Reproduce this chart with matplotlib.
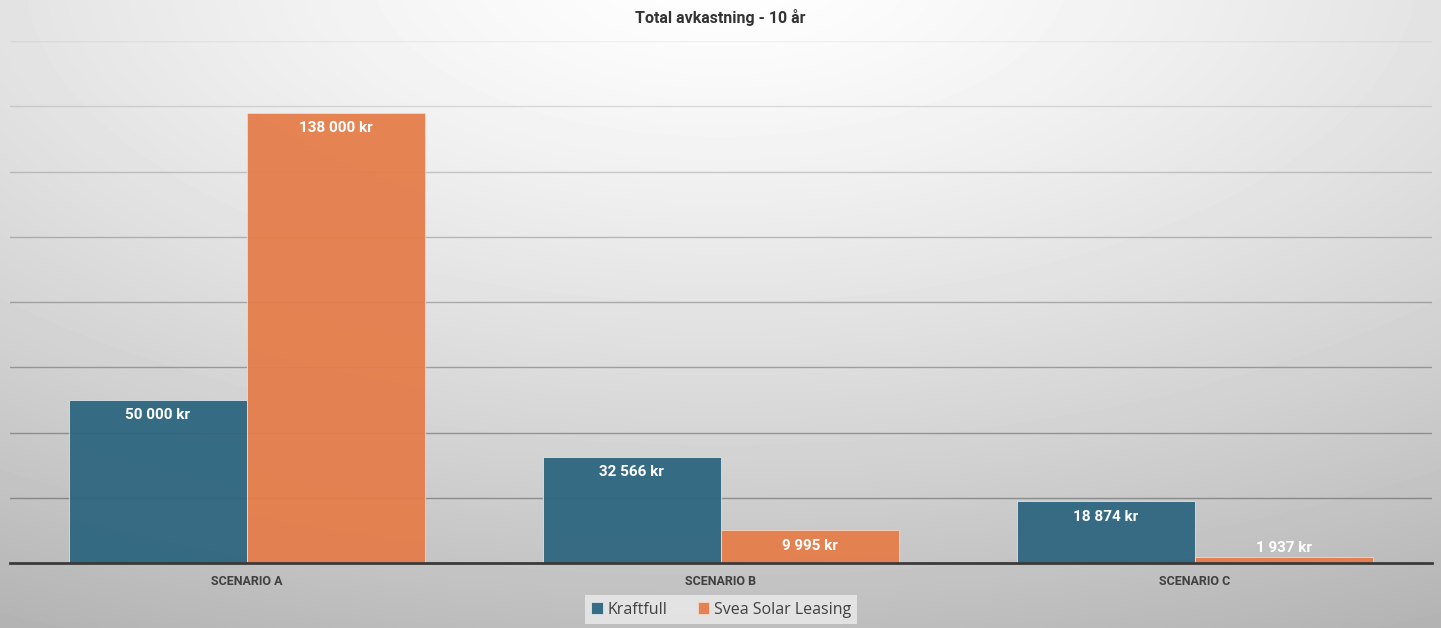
import numpy as np
import matplotlib
matplotlib.use("Agg")
import matplotlib.pyplot as plt
from matplotlib import font_manager as fm

categories = ["SCENARIO A", "SCENARIO B", "SCENARIO C"]
series_names = ["Kraftfull", "Svea Solar Leasing"]
kraftfull = [50000, 32566, 18874]
svea = [138000, 9995, 1937]
title = "Total avkastning - 10 år"
y_ticks = [0, 20000, 40000, 60000, 80000, 100000, 120000, 140000, 160000]

names = {f.name for f in fm.fontManager.ttflist}
lab_font = "Liberation Sans Narrow" if "Liberation Sans Narrow" in names else "Roboto"
txt_font = "Open Sans" if "Open Sans" in names else "DejaVu Sans"

W, H = 1441, 628
fig = plt.figure(figsize=(W / 100, H / 100), dpi=100)

# radial gradient background
bg = fig.add_axes([0, 0, 1, 1])
yy, xx = np.mgrid[0:H, 0:W]
r = np.sqrt(((xx - 720) / 1.0) ** 2 + ((yy + 30) * 2.1) ** 2)
r = r / r.max()
val = 1.0 - 0.30 * np.clip(r, 0, 1) ** 1.3
bg.imshow(val, cmap="gray", vmin=0, vmax=1, aspect="auto", extent=[0, W, H, 0])
bg.axis("off")

ax = fig.add_axes([10 / W, 1 - 563 / H, 1422 / W, (563 - 41) / H])
ax.patch.set_alpha(0)
x = np.arange(len(categories))
bw = 0.376
c_blue = "#2E6680"
c_orange = "#E57D4B"
ymax = y_ticks[-1]
ax.set_ylim(0, ymax)
ax.set_xlim(-0.5, 2.5)
ax.set_yticks(y_ticks)
for v in y_ticks[1:]:
    frac = v / ymax
    a = 0.42 - 0.36 * frac ** 2
    ax.axhline(v, color="#333333", alpha=a, linewidth=1, zorder=1)

b1 = ax.bar(x - bw / 2, kraftfull, bw, color=c_blue, alpha=0.95, edgecolor="#dfe9ee", linewidth=0.6, zorder=2)
b2 = ax.bar(x + bw / 2, svea, bw, color=c_orange, alpha=0.95, edgecolor="#f6d9c9", linewidth=0.6, zorder=2)

def fmt(v):
    return f"{v:,}".replace(",", " ") + " kr"

for bars, vals in ((b1, kraftfull), (b2, svea)):
    for rect, v in zip(bars, vals):
        cx = rect.get_x() + rect.get_width() / 2
        off = -11 if v > 5000 else 6
        ax.annotate(fmt(v), (cx, v), xytext=(0, off), textcoords="offset points",
                    ha="center", va="center", color="white", fontsize=11,
                    fontweight="bold", family=lab_font, zorder=5)

for s in ["top", "right", "left"]:
    ax.spines[s].set_visible(False)
ax.spines["bottom"].set_color("#3a3a3a")
ax.spines["bottom"].set_linewidth(2)
ax.spines["bottom"].set_zorder(3)
ax.tick_params(left=False, labelleft=False, bottom=False)
ax.set_xticks(x)
ax.set_xticklabels(categories, fontsize=9, fontweight="bold", color="#404040", family=lab_font)
ax.tick_params(axis="x", pad=5)

fig.text(720 / W, 1 - 18 / H, title, ha="center", va="center", fontsize=11.5,
         fontweight="bold", color="#333333", family=lab_font)

leg = ax.legend([b1, b2], series_names, loc="center", bbox_to_anchor=(721 / W, 1 - 609.5 / H),
                bbox_transform=fig.transFigure, ncol=2, frameon=True, fancybox=False,
                handlelength=0.7, handleheight=0.7, handletextpad=0.3,
                columnspacing=1.9, borderpad=0.4,
                prop={"family": txt_font, "size": 11.5})
leg.get_frame().set_facecolor("#ececec")
leg.get_frame().set_edgecolor("none")
leg.get_frame().set_alpha(0.8)
for t in leg.get_texts():
    t.set_color("#404040")

fig.savefig("out.png", dpi=100)
